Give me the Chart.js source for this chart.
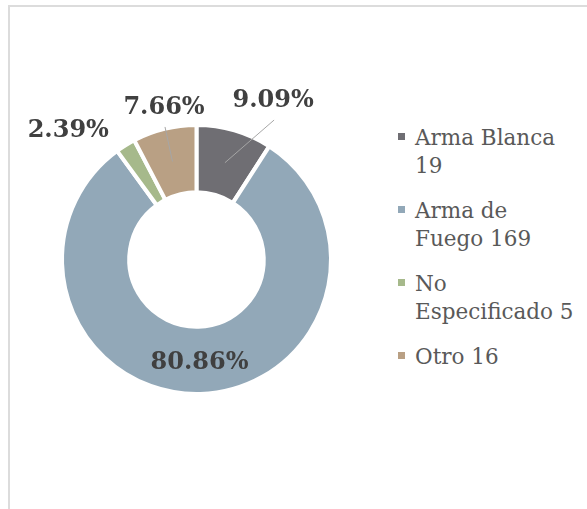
<!DOCTYPE html>
<html>
<head>
<meta charset="utf-8">
<script src="https://cdn.jsdelivr.net/npm/chart.js@4"></script>
<style>
    html, body { margin: 0; padding: 0; background: #fff; }
    body { width: 587px; height: 509px; position: relative; overflow: hidden; }
    #frame { position: absolute; left: 8px; top: 5px; width: 620px; height: 560px; border: 2px solid #dcdcdc; box-sizing: border-box; }
    #chart-box { position: absolute; left: 0; top: 0; width: 390px; height: 509px; }
    #legend { position: absolute; left: 397px; top: 124px; font-family: "DejaVu Serif", serif; font-size: 21.5px; line-height: 28px; color: #595959; }
    .legend-item { position: relative; padding-left: 18px; margin-bottom: 17px; }
    .legend-item .swatch { position: absolute; left: 1px; top: 9px; width: 7px; height: 7px; }
</style>
</head>
<body>
<div id="frame"></div>
<div id="chart-box"><canvas id="donut"></canvas></div>
<div id="legend"></div>
<script>
document.addEventListener('DOMContentLoaded', () => {
    const categories = ['Arma Blanca', 'Arma de Fuego', 'No Especificado', 'Otro'];
    const counts = [19, 169, 5, 16];
    const percentLabels = ['9.09%', '80.86%', '2.39%', '7.66%'];
    const colors = ['#6f6e73', '#92a8b8', '#a6b98b', '#b9a084'];

    // where each percent label sits: inside the ring, or outside at an angle/distance from centre
    const labelSpots = [
        { a: -64.2, r: 176, leader: true },
        null,
        { a: -134.8, r: 182, leader: false },
        { a: -102.1, r: 155, leader: true }
    ];

    const pctLabels = {
        id: 'pctLabels',
        afterDatasetsDraw(chart) {
            const ctx = chart.ctx;
            const arcs = chart.getDatasetMeta(0).data;
            ctx.save();
            ctx.font = 'bold 24px "DejaVu Serif", serif';
            ctx.fillStyle = '#404040';
            ctx.textAlign = 'center';
            ctx.textBaseline = 'middle';
            arcs.forEach((arc, i) => {
                const p = arc.getProps(['x', 'y', 'startAngle', 'endAngle', 'innerRadius', 'outerRadius'], true);
                const mid = (p.startAngle + p.endAngle) / 2;
                const midR = (p.innerRadius + p.outerRadius) / 2;
                const spot = labelSpots[i];
                if (!spot) {
                    ctx.fillText(percentLabels[i], p.x + Math.cos(mid) * midR, p.y + Math.sin(mid) * midR + 2);
                    return;
                }
                const a = spot.a * Math.PI / 180;
                const lx = p.x + Math.cos(a) * spot.r;
                const ly = p.y + Math.sin(a) * spot.r;
                if (spot.leader) {
                    ctx.strokeStyle = '#a6a6a6';
                    ctx.lineWidth = 1;
                    ctx.beginPath();
                    ctx.moveTo(p.x + Math.cos(mid) * midR, p.y + Math.sin(mid) * midR);
                    ctx.lineTo(lx + 1, ly + 19);
                    ctx.stroke();
                }
                ctx.fillText(percentLabels[i], lx, ly);
            });
            ctx.restore();
        }
    };

    new Chart(document.getElementById('donut').getContext('2d'), {
        type: 'doughnut',
        data: {
            labels: categories,
            datasets: [{
                data: counts,
                backgroundColor: colors,
                borderColor: '#ffffff',
                borderWidth: 4
            }]
        },
        options: {
            responsive: true,
            maintainAspectRatio: false,
            animation: false,
            events: [],
            cutout: '50%',
            layout: { padding: { left: 60, right: 57, top: 123, bottom: 113 } },
            plugins: {
                legend: { display: false },
                tooltip: { enabled: false }
            }
        },
        plugins: [pctLabels]
    });

    // legend, wrapped like the original
    const legend = document.getElementById('legend');
    const legendLines = [
        ['Arma Blanca', '19'],
        ['Arma de', 'Fuego 169'],
        ['No', 'Especificado 5'],
        ['Otro 16']
    ];
    categories.forEach((cat, i) => {
        const item = document.createElement('div');
        item.className = 'legend-item';
        const sw = document.createElement('span');
        sw.className = 'swatch';
        sw.style.background = colors[i];
        item.appendChild(sw);
        legendLines[i].forEach(line => {
            const d = document.createElement('div');
            d.textContent = line;
            item.appendChild(d);
        });
        legend.appendChild(item);
    });
});
</script>
</body>
</html>
